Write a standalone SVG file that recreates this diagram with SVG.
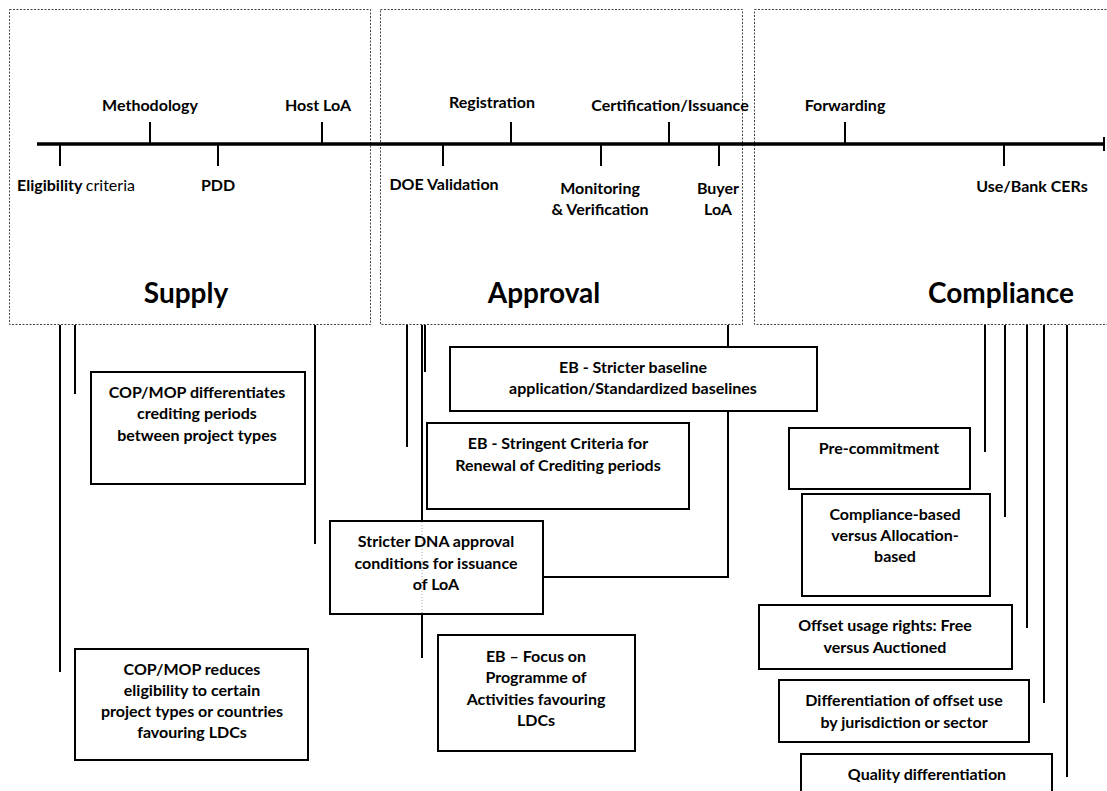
<svg xmlns="http://www.w3.org/2000/svg" width="1107" height="791" viewBox="0 0 1107 791">
<style>
.t{font-family:Lato,"Open Sans","Liberation Sans",sans-serif;font-weight:bold;font-size:16px;fill:#000;text-anchor:middle}
.r{font-weight:normal}
.h{font-size:28px}
.phase{fill:none;stroke:#444;stroke-width:1;stroke-dasharray:2,1.5}
.box{fill:#fff;stroke:#000;stroke-width:2}
.ln{fill:none;stroke:#000;stroke-width:2}
.axis{fill:none;stroke:#000;stroke-width:3.5}
</style>
<g id="phase-supply"><rect class="phase" x="9.5" y="9.5" width="361" height="315"/><text class="t h" x="186" y="303">Supply</text></g>
<g id="phase-approval"><rect class="phase" x="380.5" y="9.5" width="362" height="315"/><text class="t h" x="544" y="303">Approval</text></g>
<g id="phase-compliance"><rect class="phase" x="754.5" y="9.5" width="380" height="315"/><text class="t h" x="1001" y="303">Compliance</text></g>
<g id="timeline">
<line class="axis" x1="37" y1="144" x2="1104" y2="144"/>
<line class="ln" x1="1104" y1="137" x2="1104" y2="151"/>
<g class="ticks">
<line class="ln" x1="150" y1="122" x2="150" y2="144"/>
<line class="ln" x1="322" y1="122" x2="322" y2="144"/>
<line class="ln" x1="511" y1="122" x2="511" y2="144"/>
<line class="ln" x1="669" y1="122" x2="669" y2="144"/>
<line class="ln" x1="845" y1="122" x2="845" y2="144"/>
<line class="ln" x1="60" y1="144" x2="60" y2="166"/>
<line class="ln" x1="218" y1="144" x2="218" y2="166"/>
<line class="ln" x1="443" y1="144" x2="443" y2="166"/>
<line class="ln" x1="601" y1="144" x2="601" y2="166"/>
<line class="ln" x1="719" y1="144" x2="719" y2="166"/>
<line class="ln" x1="1004" y1="144" x2="1004" y2="166"/>
</g>
<text class="t" x="150" y="111">Methodology</text>
<text class="t" x="318" y="111">Host LoA</text>
<text class="t" x="492" y="108">Registration</text>
<text class="t" x="670" y="111">Certification/Issuance</text>
<text class="t" x="845" y="111">Forwarding</text>
<text class="t" x="76" y="191">Eligibility <tspan class="r">criteria</tspan></text>
<text class="t" x="218" y="191">PDD</text>
<text class="t" x="444" y="190">DOE Validation</text>
<text class="t" x="600" y="194">Monitoring</text>
<text class="t" x="600" y="215">&amp; Verification</text>
<text class="t" x="718" y="194">Buyer</text>
<text class="t" x="718" y="215">LoA</text>
<text class="t" x="1032" y="192">Use/Bank CERs</text>
</g>
<g id="connectors">
<line class="ln" x1="60" y1="325" x2="60" y2="672"/>
<line class="ln" x1="75" y1="325" x2="75" y2="394"/>
<line class="ln" x1="315" y1="325" x2="315" y2="544"/>
<line class="ln" x1="407" y1="325" x2="407" y2="447"/>
<line class="ln" x1="425" y1="325" x2="425" y2="372"/>
<line class="ln" x1="422" y1="325" x2="422" y2="658"/>
<path class="ln" d="M728 325 V577 H543"/>
<line class="ln" x1="985" y1="325" x2="985" y2="452"/>
<line class="ln" x1="1005" y1="325" x2="1005" y2="517"/>
<line class="ln" x1="1027" y1="325" x2="1027" y2="628"/>
<line class="ln" x1="1044" y1="325" x2="1044" y2="703"/>
<line class="ln" x1="1067" y1="325" x2="1067" y2="777"/>
</g>
<g id="n-cop-diff"><rect class="box" x="91" y="372" width="214" height="112"/>
<text class="t" x="197" y="398">COP/MOP differentiates</text><text class="t" x="197" y="419">crediting periods</text><text class="t" x="197" y="441">between project types</text></g>
<g id="n-cop-reduce"><rect class="box" x="75" y="649" width="233" height="111"/>
<text class="t" x="192" y="675">COP/MOP reduces</text><text class="t" x="192" y="696">eligibility to certain</text><text class="t" x="192" y="717">project types or countries</text><text class="t" x="192" y="738">favouring LDCs</text></g>
<g id="n-eb-baseline"><rect class="box" x="450" y="347" width="367" height="64"/>
<text class="t" x="633" y="373">EB - Stricter baseline</text><text class="t" x="633" y="394">application/Standardized baselines</text></g>
<g id="n-eb-renewal"><rect class="box" x="427" y="423" width="262" height="86"/>
<text class="t" x="558" y="449">EB - Stringent Criteria for</text><text class="t" x="558" y="471">Renewal of Crediting periods</text></g>
<g id="n-dna"><rect class="box" x="330" y="521" width="213" height="93"/>
<line x1="422" y1="522" x2="422" y2="613" stroke="#aaa" stroke-width="1" stroke-dasharray="1,2"/>
<text class="t" x="436" y="547">Stricter DNA approval</text><text class="t" x="436" y="569">conditions for issuance</text><text class="t" x="436" y="590">of LoA</text></g>
<g id="n-eb-poa"><rect class="box" x="438" y="635" width="197" height="116"/>
<text class="t" x="536" y="662">EB – Focus on</text><text class="t" x="536" y="683">Programme of</text><text class="t" x="536" y="705">Activities favouring</text><text class="t" x="536" y="726">LDCs</text></g>
<g id="n-precommit"><rect class="box" x="789" y="428" width="181" height="61"/>
<text class="t" x="879" y="454">Pre-commitment</text></g>
<g id="n-compliance-based"><rect class="box" x="802" y="494" width="188" height="102"/>
<text class="t" x="895" y="520">Compliance-based</text><text class="t" x="895" y="541">versus Allocation-</text><text class="t" x="895" y="562">based</text></g>
<g id="n-offset-rights"><rect class="box" x="759" y="605" width="253" height="64"/>
<text class="t" x="885" y="631">Offset usage rights: Free</text><text class="t" x="885" y="653">versus Auctioned</text></g>
<g id="n-diff-jurisdiction"><rect class="box" x="779" y="680" width="250" height="62"/>
<text class="t" x="904" y="706">Differentiation of offset use</text><text class="t" x="904" y="728">by jurisdiction or sector</text></g>
<g id="n-quality"><rect class="box" x="801" y="754" width="251" height="60"/>
<text class="t" x="927" y="780">Quality differentiation</text></g>
</svg>
